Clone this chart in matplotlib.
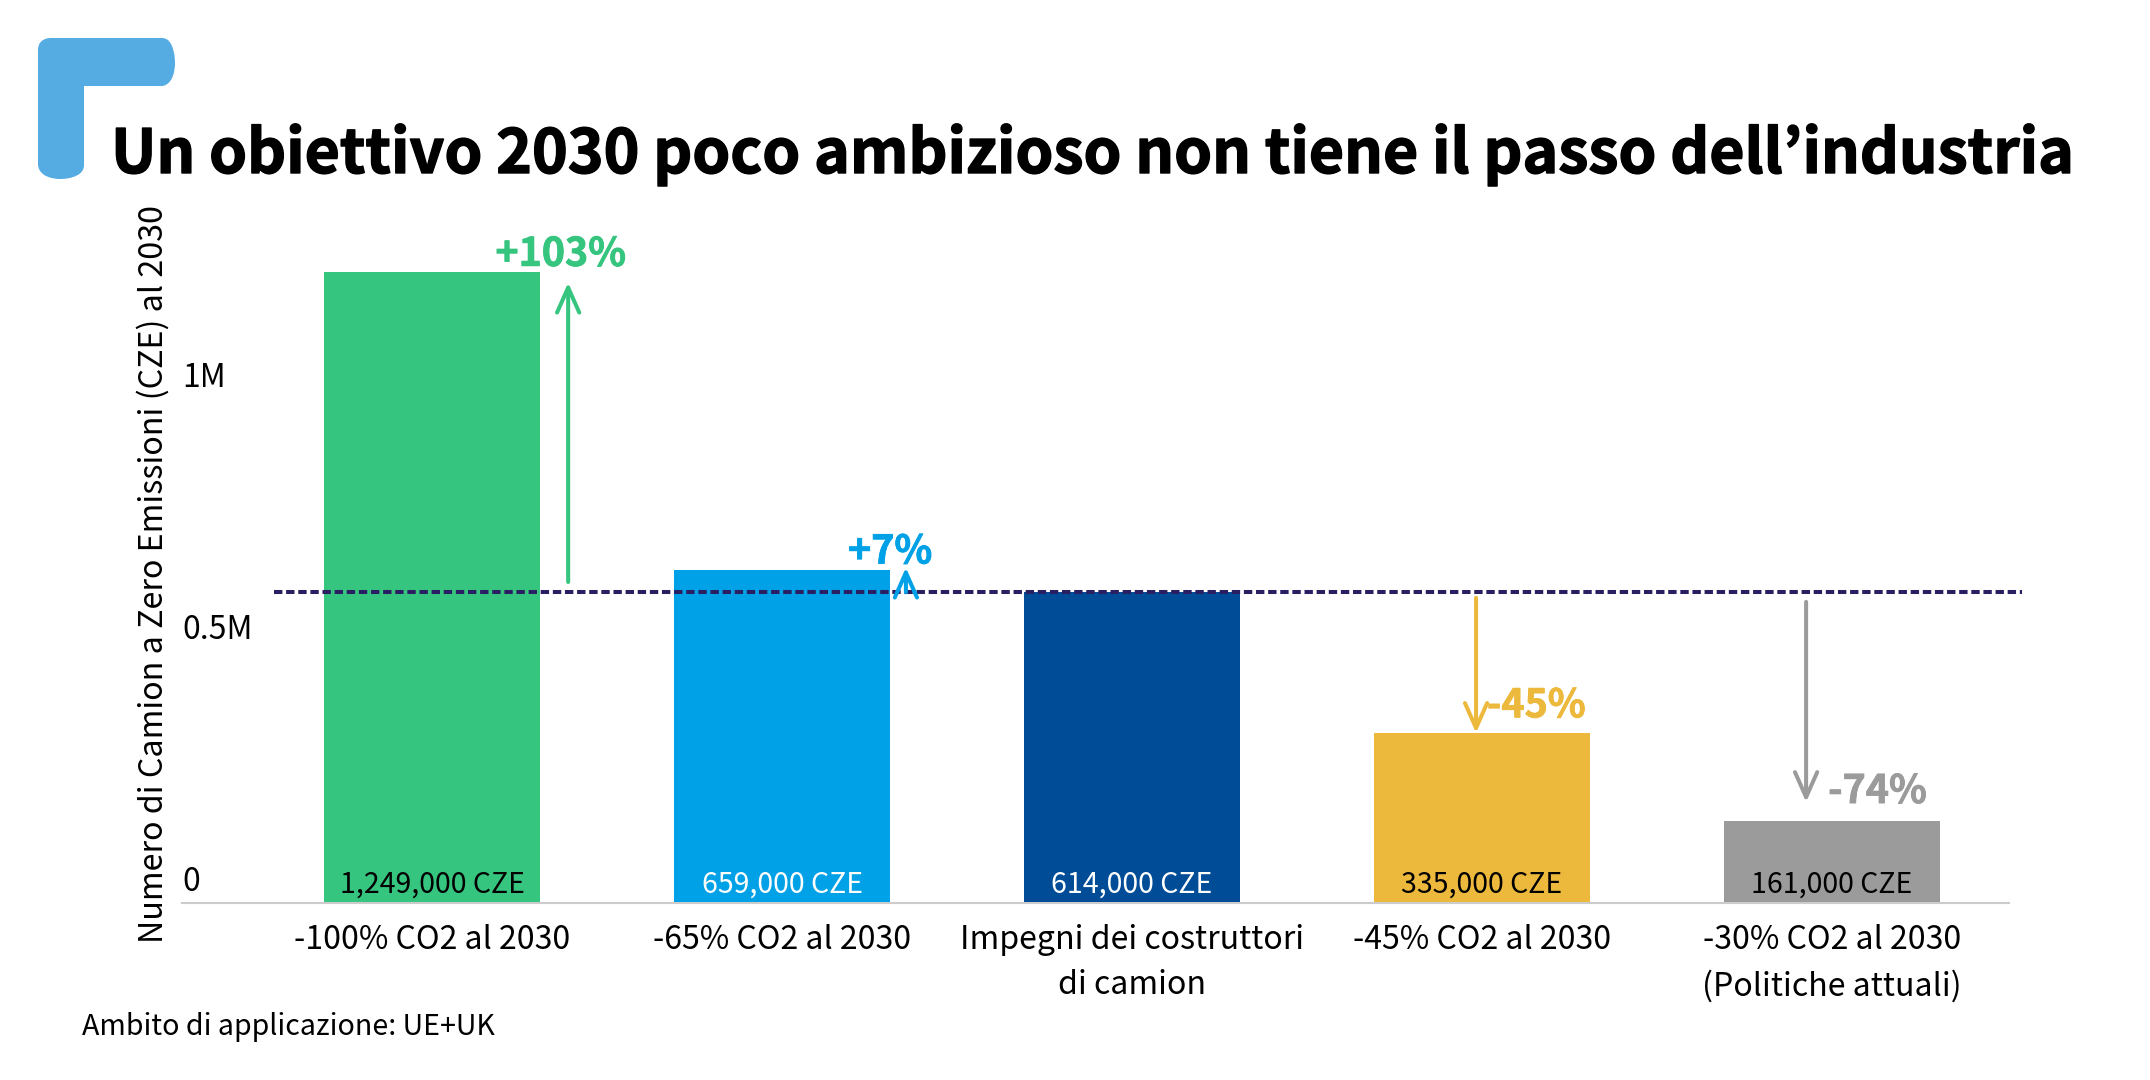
import matplotlib
matplotlib.use('Agg')
import matplotlib.pyplot as plt
import matplotlib.patheffects as pe
from matplotlib.patches import PathPatch
from matplotlib.path import Path
from matplotlib.transforms import IdentityTransform, ScaledTranslation

plt.rcParams['font.family'] = ['Noto Sans CJK SC', 'DejaVu Sans']

# dati
categories = ['-100% CO2 al 2030', '-65% CO2 al 2030', 'Impegni dei costruttori\ndi camion',
              '-45% CO2 al 2030', '-30% CO2 al 2030\n(Politiche attuali)']
values = [1249000, 659000, 614000, 335000, 161000]
value_labels = ['1,249,000 CZE', '659,000 CZE', '614,000 CZE', '335,000 CZE', '161,000 CZE']
colors = ['#36C57F', '#00A1E6', '#004C97', '#EDB93C', '#9B9B9B']
label_colors = ['black', 'white', 'white', 'black', 'black']
reference = 614000
y_ticks = [0, 500000, 1000000]
y_tick_labels = ['0', '0.5M', '1M']

W, H = 2150, 1080
PX_PER_UNIT = 630 / 1249000  # altezza in pixel per camion

fig = plt.figure(figsize=(W / 100, H / 100), dpi=100, facecolor='white')
left, right, top, bottom = 182, 2009, 230, 903
ax = fig.add_axes([left / W, 1 - bottom / H, (right - left) / W, (bottom - top) / H])

x = list(range(len(categories)))
ax.bar(x, values, width=216 / 350, color=colors, zorder=3)
ax.set_xlim((left - 432) / 350, (right - 432) / 350)
ax.set_ylim(-1 / PX_PER_UNIT, (bottom - top - 1) / PX_PER_UNIT)

for s in ['top', 'left', 'right']:
    ax.spines[s].set_visible(False)
ax.spines['bottom'].set_color('#CCCCCC')
ax.spines['bottom'].set_linewidth(1.5)

ax.set_xticks(x)
ax.set_xticklabels(categories, fontsize=23.1, linespacing=1.54)
ax.tick_params(axis='x', length=0, pad=15)
ax.set_yticks(y_ticks)
ax.set_yticklabels(y_tick_labels, fontsize=23, ha='left', va='center')
ax.tick_params(axis='y', length=0, pad=0)
for lab in ax.get_yticklabels():
    lab.set_transform(lab.get_transform() + ScaledTranslation(0, 20 / 100, fig.dpi_scale_trans))

ax.set_ylabel('Numero di Camion a Zero Emissioni (CZE) al 2030', fontsize=23.2)
ax.yaxis.set_label_coords((170 - left) / (right - left), (bottom - 574) / (bottom - top))

# etichette dentro le barre
for i, v in enumerate(values):
    ax.annotate(value_labels[i], (i, 0), xytext=(0, 17), textcoords='offset pixels',
                ha='center', va='center', fontsize=20.5, color=label_colors[i], zorder=4)

# linea di riferimento
ax.plot([-0.451, 4.543], [reference, reference], color='#2A1F63', lw=2.9,
        linestyle=(0, (2.08, 0.93)), dash_capstyle='butt', clip_on=False, zorder=5)

# frecce e percentuali
arrow_x = [0.389, 1.354, 3.0 - 0.017, 4.0 - 0.074]
arrow_from = [634400, 614000, 603000, 595000]
arrow_to = [1228000, 663000, 335000, 198000]
pct_labels = ['+103%', '+7%', '-45%', '-74%']
pct_x = [0.368, 1.309, 3.155, 4.130]
pct_y = [1284000, 694000, 389000, 219000]
for i in range(4):
    c = colors[i] if i < 2 else colors[i + 1]
    ax.annotate('', xy=(arrow_x[i], arrow_to[i]), xytext=(arrow_x[i], arrow_from[i]),
                arrowprops=dict(arrowstyle='->,head_length=18,head_width=8', color=c, lw=2.9,
                                shrinkA=0, shrinkB=0, mutation_scale=1), zorder=6)
    ax.text(pct_x[i], pct_y[i], pct_labels[i], color=c, fontsize=28.3, fontweight='bold',
            ha='center', va='center', zorder=6,
            path_effects=[pe.withStroke(linewidth=0.6, foreground=c)])

# titolo e nota
fig.text(111 / W, 1 - 173 / H, 'Un obiettivo 2030 poco ambizioso non tiene il passo dell\u2019industria',
         fontsize=43.7, fontweight='bold', color='black', ha='left', va='baseline',
         family=['Noto Sans CJK KR', 'DejaVu Sans'],
         path_effects=[pe.withStroke(linewidth=1.0, foreground='black')])
fig.text(82 / W, 1 - 1027 / H, 'Ambito di applicazione: UE+UK', fontsize=20.6, color='black',
         ha='left', va='center')

# logo
def py(y):
    return H - y

verts = [(50, py(38)), (162, py(38)),
         (175, py(38)), (175, py(62)), (175, py(62)),
         (175, py(86)), (162, py(86)), (162, py(86)),
         (84, py(86)), (84, py(165)),
         (84, py(179)), (61, py(179)), (61, py(179)),
         (38, py(179)), (38, py(165)), (38, py(165)),
         (38, py(50)),
         (38, py(38)), (50, py(38)), (50, py(38))]
codes = [Path.MOVETO, Path.LINETO,
         Path.CURVE4, Path.CURVE4, Path.CURVE4,
         Path.CURVE4, Path.CURVE4, Path.CURVE4,
         Path.LINETO, Path.LINETO,
         Path.CURVE4, Path.CURVE4, Path.CURVE4,
         Path.CURVE4, Path.CURVE4, Path.CURVE4,
         Path.LINETO,
         Path.CURVE4, Path.CURVE4, Path.CURVE4]
fig.add_artist(PathPatch(Path(verts, codes), facecolor='#55ACE3', edgecolor='none',
                         transform=IdentityTransform()))

fig.savefig('out.png', dpi=100)
